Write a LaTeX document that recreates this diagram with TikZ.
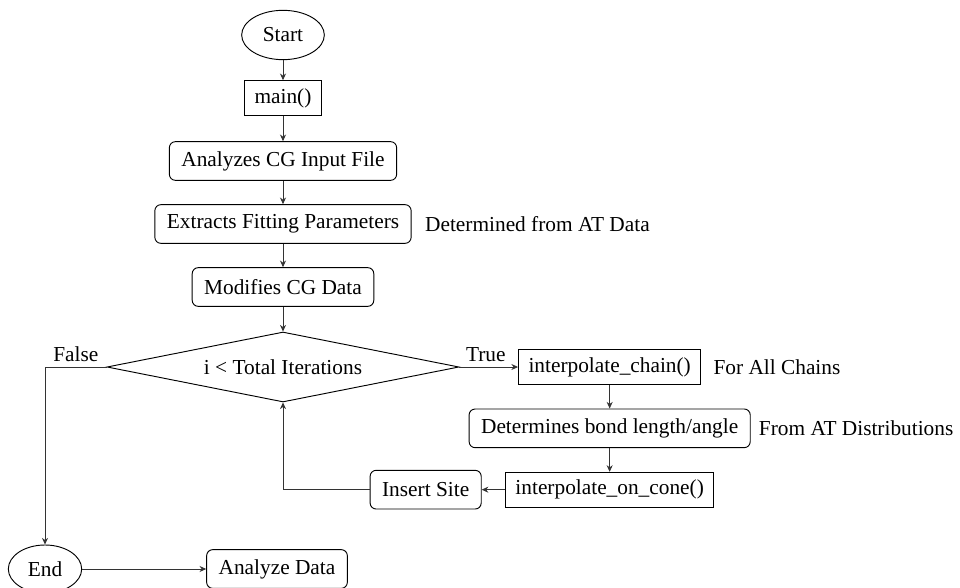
\documentclass[tikz,border=0pt]{standalone}
\usepackage{fontspec}
\setmainfont{Liberation Serif}
\usepackage{tikz}
\usetikzlibrary{shapes,arrows,arrows.meta}

\begin{document}
\begin{tikzpicture}[->,>={Stealth[length=5pt,width=4.5pt]},x=0.75pt,y=-0.75pt,node distance=47.25pt,
  font=\fontsize{16}{19}\selectfont]
\tikzstyle{every node}=[text=black]
\tikzstyle{terminal}=[ellipse,draw=black,line width=0.7pt,minimum width=62pt,minimum height=37pt,inner sep=1pt]
\tikzstyle{block}=[rectangle,draw=black,line width=0.7pt,inner xsep=7.5pt,minimum height=26pt]
\tikzstyle{roundblock}=[rectangle,rounded corners=4.5pt,draw=black,line width=0.7pt,inner xsep=9pt,minimum height=29pt]
\tikzstyle{decision}=[diamond,aspect=5,draw=black,line width=0.7pt,minimum width=264pt,minimum height=52.5pt,inner sep=0pt]
\tikzstyle{note}=[anchor=west,inner sep=2pt]
\tikzstyle{flow}=[black!80,line width=0.6pt]
\useasboundingbox (0,0) rectangle (960,588);
\node[terminal] (start) at (283,35) {Start};
\node[block][below of=start](main){main()};
\node[roundblock][below of=main](analyzes){Analyzes CG Input File};
\node[roundblock][below of=analyzes](extracts){Extracts Fitting Parameters};
\node[roundblock][below of=extracts](modifies){Modifies CG Data};
\node[decision][below of=modifies,node distance=60pt](iter){i < Total Iterations};
\node[block][right of=iter,node distance=245pt](chain){interpolate\textunderscore chain()};
\node[roundblock][below of=chain,node distance=46pt](bond){Determines bond length/angle};
\node[block][below of=bond,node distance=46pt](cone){interpolate\textunderscore on\textunderscore cone()};
\node[roundblock][left of=cone,node distance=138pt](site){Insert Site};
\node[terminal,minimum width=55pt,minimum height=36pt] (end) at (45,569) {End};
\node[roundblock][right of=end,node distance=174pt](analyze){Analyze Data};
% side notes
\node[note] (atdata) at ([xshift=8pt]extracts.east) {Determined from AT Data};
\node[note] (allchains) at ([xshift=7pt]chain.east) {For All Chains};
\node[note] (atdist) at ([xshift=4pt]bond.east) {From AT Distributions};
\path[flow] (start) edge (main)
      (main) edge (analyzes)
      (analyzes) edge (extracts)
      (extracts) edge (modifies)
      (modifies) edge (iter)
      (iter) edge node[above,pos=0.45]{True} (chain)
      (chain) edge (bond)
      (bond) edge (cone)
      (cone) edge (site)
      (end) edge (analyze);
\draw[flow] (site.west) -| (iter.south);
\draw[flow] (iter.west) -| node[above,pos=0.25]{False} (end.north);
\end{tikzpicture}
\end{document}
